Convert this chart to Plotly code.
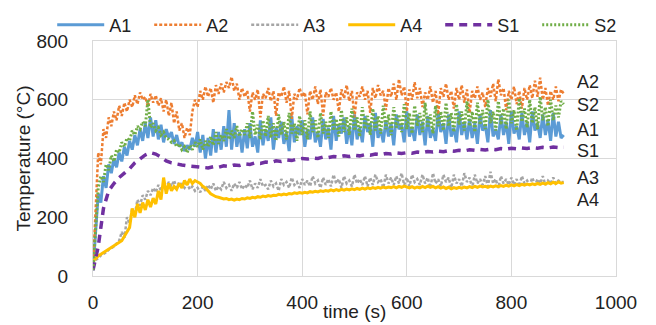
import plotly.graph_objects as go

# time axes (s)
t5 = list(range(0, 901, 5))
t10 = list(range(0, 901, 10))

A1 = [20,150,280,250,340,300,380,350,400,370,420,390,440,410,460,430,480,445,500,460,
      520,470,540,475,530,465,515,455,500,470,490,450,480,440,455,425,445,430,470,440,
      490,420,480,400,470,410,500,420,490,430,510,440,565,430,520,440,490,420,500,435,
      520,440,475,420,530,445,500,460,540,430,505,470,525,450,490,425,545,455,510,480,
      530,440,500,465,540,455,490,440,535,465,505,430,545,460,515,485,540,450,510,445,
      550,465,505,455,545,490,520,440,555,470,500,455,530,475,520,445,550,500,515,455,
      560,475,505,460,550,480,525,445,545,470,500,460,555,490,520,450,550,475,505,455,
      560,480,525,465,535,470,520,450,550,495,515,455,565,475,500,465,550,480,525,450,
      560,485,510,465,555,480,525,455,560,495,520,470,550,480,530,460,555,475,525,470,480]

A2 = [30,250,420,380,500,470,540,510,560,530,580,545,590,560,600,575,615,585,625,600,
      610,575,620,590,615,580,605,560,600,545,590,520,560,495,520,470,505,480,560,600,
      575,630,600,645,610,640,590,650,620,655,625,660,640,678,630,655,600,640,610,630,
      560,625,600,635,540,620,605,640,595,630,545,625,610,645,590,630,535,620,600,640,
      610,625,550,630,600,645,585,635,545,625,610,640,600,625,560,635,605,650,595,630,
      540,625,610,645,600,630,555,640,605,650,615,630,565,640,610,655,600,670,615,645,
      560,635,600,660,605,640,575,625,600,645,590,630,550,640,610,655,600,630,570,640,
      600,650,590,635,555,630,605,645,600,625,575,640,610,655,595,670,615,640,565,630,
      600,645,585,630,570,640,600,650,605,665,610,675,600,640,580,630,600,645,595,635,620]

A3 = [40,55,60,70,75,80,90,95,100,110,120,150,130,200,180,230,210,260,240,275,
      260,290,275,300,285,310,290,315,300,320,305,325,300,320,310,300,315,295,305,290,
      300,285,305,290,310,295,315,290,305,295,320,300,310,290,315,300,320,295,310,300,
      325,295,315,300,330,305,310,295,325,305,315,290,330,310,320,300,335,310,320,300,
      330,310,325,305,340,315,325,300,335,310,330,305,345,315,330,300,340,315,325,305,
      345,315,330,310,340,305,335,310,345,320,330,300,345,315,335,310,340,315,350,310,
      335,305,345,320,330,310,345,315,335,300,350,315,330,305,345,320,335,300,345,315,
      330,305,350,320,335,300,345,315,330,310,340,305,355,315,330,300,340,315,330,310,
      335,310,330,305,340,315,325,310,335,310,330,315,340,310,325,315,335,315,325,320,320]

A4 = [50,60,68,74,80,85,92,97,102,108,115,120,135,150,165,230,200,245,215,250,
      225,260,235,265,245,290,260,335,280,315,290,305,295,315,300,325,310,330,315,325,
      320,315,305,300,290,280,275,270,268,265,262,264,260,262,258,262,260,264,262,266,
      264,268,266,270,268,272,270,274,272,275,274,278,276,279,277,281,279,283,281,284,
      282,285,283,287,285,288,286,290,288,291,289,293,290,294,291,295,292,296,293,297,
      294,298,295,299,296,300,297,301,298,302,299,303,300,303,301,304,300,305,302,306,
      303,300,304,299,303,300,305,301,306,302,305,300,304,299,303,298,302,297,301,298,
      302,299,303,300,304,301,305,302,306,303,305,302,306,303,307,304,308,305,309,306,
      310,307,311,308,312,309,313,310,314,311,315,312,316,313,318,314,319,315,320,316,318]

S1 = [20,100,230,290,315,335,350,365,385,400,412,420,415,405,392,385,380,378,375,373,
      372,370,368,372,370,375,373,378,376,382,380,385,383,388,386,392,390,395,393,398,
      400,398,402,400,405,403,407,405,409,407,411,409,413,411,415,413,417,415,419,417,
      420,418,422,420,424,422,425,423,427,425,428,426,430,428,431,429,432,430,434,432,
      435,433,436,434,437,435,438,436,439,437,438]

S2 = [20,160,300,340,320,380,360,410,390,430,420,455,440,470,460,495,480,510,500,525,
      510,600,505,520,495,505,480,490,470,465,455,460,440,450,430,440,420,445,430,455,
      440,465,430,460,440,475,445,490,450,480,460,500,465,495,470,510,475,500,480,520,
      470,560,480,515,465,530,475,545,470,520,460,550,480,525,465,555,485,520,460,545,
      480,530,465,560,490,530,470,555,485,525,470,560,495,535,475,565,490,540,480,570,
      495,540,475,575,500,545,480,570,495,545,485,580,500,550,480,575,505,550,490,585,
      500,555,485,580,510,555,490,590,505,550,485,580,510,560,495,590,510,555,490,585,
      515,560,495,595,510,560,490,590,515,565,500,600,520,560,495,595,515,570,500,600,
      520,565,495,605,525,570,505,600,520,575,500,610,530,575,510,600,530,580,540,595,585]

series = [
    ("A1", t5, A1, "#5B9BD5", "solid", 3),
    ("A2", t5, A2, "#ED7D31", "3px,2px", 2.5),
    ("A3", t5, A3, "#A5A5A5", "3px,2px", 2.5),
    ("A4", t5, A4, "#FFC000", "solid", 3),
    ("S1", t10, S1, "#7030A0", "8px,6px", 3.5),
    ("S2", t5, S2, "#70AD47", "2px,2px", 3),
]

end_labels = ["A2", "S2", "A1", "S1", "A3", "A4"]
end_label_y = [662, 583, 497, 427, 334, 259]

fig = go.Figure()
for name, x, y, color, dash, w in series:
    fig.add_trace(go.Scatter(x=x, y=y, name=name, mode="lines",
                             line=dict(color=color, dash=dash, width=w)))

for lab, yy in zip(end_labels, end_label_y):
    fig.add_annotation(x=922, y=yy, xref="x", yref="y", text=lab, showarrow=False,
                       xanchor="left", yanchor="middle",
                       font=dict(size=18, color="#222"))

# x-axis title, set slightly overlapping the tick-label row as in the original
fig.add_annotation(x=0.5, y=-0.153, xref="paper", yref="paper", text="time (s)",
                   showarrow=False, xanchor="center", yanchor="middle",
                   font=dict(size=19, color="#222"))

font_family = "Liberation Sans, Arial, sans-serif"
fig.update_layout(
    width=656, height=325,
    margin=dict(l=85, r=48, t=33, b=57, autoexpand=False),
    paper_bgcolor="white", plot_bgcolor="white",
    font=dict(family=font_family, size=19, color="#222"),
    showlegend=True,
    legend=dict(orientation="h", x=-0.078, y=1.068, xanchor="left", yanchor="middle",
                font=dict(size=18), itemwidth=47, entrywidth=35, entrywidthmode="pixels",
                tracegroupgap=0, bgcolor="rgba(0,0,0,0)"),
)
fig.update_xaxes(range=[0, 1000], tickvals=[0, 200, 400, 600, 800, 1000],
                 showgrid=True, gridcolor="#D9D9D9", gridwidth=1,
                 showline=True, linecolor="#D9D9D9", mirror=True,
                 zeroline=False, ticks="", ticklabelstandoff=9, automargin=False)
fig.update_yaxes(range=[0, 800], tickvals=[0, 200, 400, 600, 800],
                 showgrid=True, gridcolor="#D9D9D9", gridwidth=1,
                 showline=True, linecolor="#D9D9D9", mirror=True,
                 zeroline=False, ticks="", ticklabelstandoff=20, automargin=False,
                 title=dict(text="Temperature (°C)", standoff=0, font=dict(size=19)))

fig.write_html("out.html")
